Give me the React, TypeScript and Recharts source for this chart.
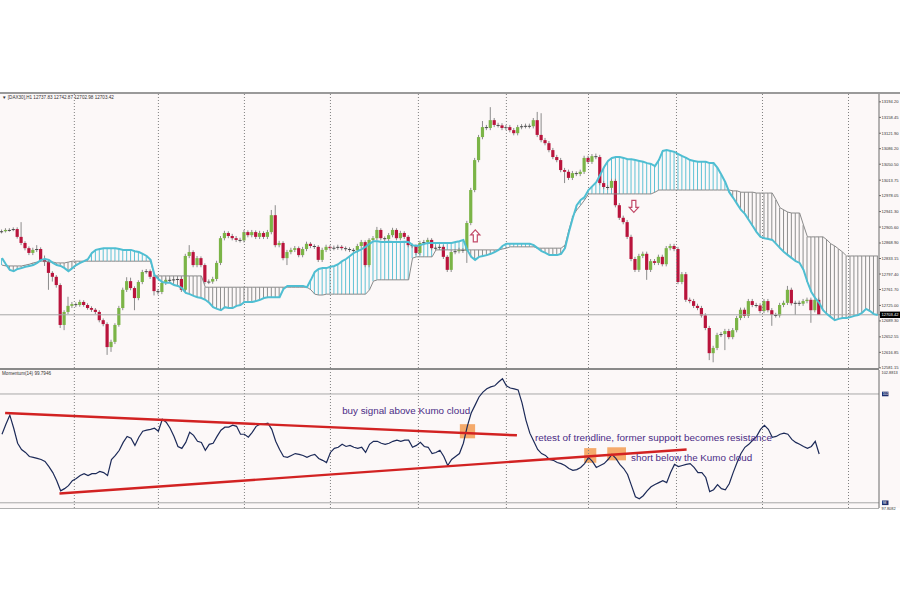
import React from 'react';
import { ComposedChart, Bar, Line, XAxis, YAxis, ReferenceLine, ReferenceArea, ReferenceDot } from 'recharts';

// DAX30 H1 candles
const opens = [
  12895, 12896, 12899, 12899, 12901, 12883, 12869, 12857, 12846, 12853,
  12855, 12830, 12825, 12800, 12791, 12772, 12680, 12710, 12724, 12728,
  12726, 12733, 12726, 12719, 12715, 12710, 12691, 12682, 12629, 12641,
  12680, 12719, 12761, 12781, 12765, 12742, 12779, 12802, 12804, 12791,
  12758, 12756, 12777, 12784, 12783, 12785, 12786, 12761, 12839, 12848,
  12818, 12834, 12818, 12779, 12780, 12786, 12823, 12880, 12892, 12885,
  12880, 12876, 12875, 12894, 12887, 12894, 12883, 12892, 12883, 12894,
  12933, 12864, 12869, 12834, 12848, 12853, 12857, 12841, 12855, 12867,
  12862, 12860, 12830, 12853, 12860, 12857, 12858, 12860, 12857, 12855,
  12853, 12852, 12862, 12871, 12818, 12876, 12880, 12899, 12880, 12878,
  12887, 12899, 12880, 12892, 12883, 12864, 12862, 12846, 12869, 12871,
  12876, 12857, 12858, 12860, 12837, 12807, 12848, 12850, 12853, 12851,
  12915, 12991, 13060, 13113, 13136, 13134, 13152, 13141, 13140, 13134,
  13136, 13129, 13122, 13136, 13138, 13139, 13138, 13152, 13118, 13106,
  13099, 13083, 13067, 13060, 13037, 13033, 13019, 13030, 13028, 13033,
  13065, 13056, 13069, 13067, 13007, 12998, 12996, 13012, 12956, 12927,
  12917, 12883, 12832, 12807, 12839, 12844, 12807, 12827, 12823, 12837,
  12820, 12857, 12862, 12855, 12779, 12797, 12738, 12735, 12724, 12719,
  12702, 12673, 12615, 12627, 12657, 12659, 12666, 12652, 12668, 12696,
  12715, 12701, 12735, 12726, 12725, 12712, 12735, 12714, 12703, 12702,
  12726, 12731, 12761, 12730, 12731, 12729, 12735, 12738, 12714, 12737.83,
];
const highs = [
  12900, 12903, 12903, 12905, 12905, 12917, 12873, 12861, 12858, 12864,
  12859, 12840, 12829, 12804, 12795, 12776, 12714, 12745, 12733, 12732,
  12738, 12737, 12730, 12723, 12719, 12714, 12695, 12686, 12646, 12684,
  12724, 12766, 12790, 12789, 12769, 12783, 12807, 12809, 12808, 12795,
  12763, 12781, 12789, 12788, 12790, 12791, 12790, 12844, 12864, 12852,
  12839, 12838, 12822, 12785, 12791, 12828, 12885, 12897, 12896, 12890,
  12885, 12881, 12899, 12898, 12899, 12898, 12897, 12896, 12899, 12945,
  12956, 12874, 12873, 12853, 12858, 12862, 12861, 12860, 12872, 12871,
  12866, 12864, 12858, 12865, 12864, 12863, 12865, 12864, 12861, 12859,
  12857, 12867, 12876, 12875, 12880, 12885, 12906, 12903, 12884, 12892,
  12904, 12903, 12897, 12896, 12887, 12868, 12866, 12874, 12876, 12881,
  12880, 12863, 12865, 12864, 12841, 12853, 12855, 12858, 12857, 12920,
  12996, 13065, 13118, 13150, 13141, 13182, 13157, 13146, 13145, 13141,
  13141, 13134, 13141, 13143, 13144, 13144, 13157, 13171, 13168, 13111,
  13104, 13088, 13072, 13065, 13042, 13038, 13035, 13034, 13038, 13070,
  13070, 13074, 13075, 13072, 13012, 13003, 13017, 13017, 12961, 12932,
  12922, 12888, 12837, 12844, 12849, 12849, 12832, 12832, 12842, 12842,
  12862, 12867, 12867, 12860, 12802, 12802, 12743, 12740, 12729, 12724,
  12707, 12678, 12632, 12662, 12664, 12671, 12671, 12673, 12701, 12720,
  12720, 12740, 12740, 12731, 12730, 12740, 12740, 12719, 12708, 12731,
  12736, 12770, 12766, 12736, 12736, 12740, 12743, 12743, 12742, 12742.87,
];
const lows = [
  12891, 12893, 12895, 12896, 12879, 12864, 12852, 12841, 12841, 12848,
  12826, 12816, 12761, 12780, 12766, 12673, 12668, 12705, 12719, 12721,
  12722, 12722, 12715, 12710, 12705, 12686, 12677, 12611, 12618, 12636,
  12676, 12714, 12756, 12760, 12714, 12737, 12774, 12798, 12786, 12748,
  12750, 12751, 12772, 12779, 12778, 12780, 12756, 12756, 12834, 12813,
  12813, 12813, 12774, 12774, 12775, 12781, 12818, 12875, 12880, 12875,
  12871, 12870, 12870, 12882, 12882, 12878, 12878, 12878, 12878, 12889,
  12859, 12859, 12829, 12818, 12843, 12848, 12836, 12836, 12850, 12857,
  12855, 12825, 12825, 12848, 12852, 12852, 12853, 12852, 12850, 12848,
  12847, 12847, 12857, 12813, 12813, 12871, 12875, 12875, 12873, 12873,
  12882, 12875, 12875, 12878, 12859, 12857, 12841, 12841, 12864, 12866,
  12852, 12852, 12853, 12832, 12802, 12802, 12843, 12845, 12846, 12823,
  12910, 12986, 13055, 13108, 13129, 13129, 13136, 13135, 13129, 13129,
  13124, 13117, 13117, 13131, 13133, 13133, 13133, 13113, 13101, 13094,
  13078, 13062, 13055, 13032, 13007, 13014, 13014, 13023, 13023, 13028,
  13051, 13051, 13062, 13002, 12993, 12991, 12991, 12951, 12922, 12912,
  12878, 12827, 12802, 12802, 12834, 12784, 12802, 12818, 12818, 12815,
  12815, 12852, 12850, 12774, 12774, 12733, 12730, 12719, 12714, 12697,
  12668, 12599, 12594, 12622, 12652, 12622, 12647, 12647, 12663, 12691,
  12696, 12696, 12721, 12720, 12707, 12707, 12709, 12678, 12697, 12697,
  12721, 12726, 12725, 12703, 12724, 12724, 12730, 12685, 12709, 12702.98,
];
const closes = [
  12896, 12899, 12899, 12901, 12883, 12869, 12857, 12846, 12853, 12855,
  12830, 12825, 12800, 12791, 12772, 12680, 12710, 12724, 12728, 12726,
  12733, 12726, 12719, 12715, 12710, 12691, 12682, 12629, 12641, 12680,
  12719, 12761, 12781, 12765, 12742, 12779, 12802, 12804, 12791, 12758,
  12756, 12777, 12784, 12783, 12785, 12786, 12761, 12839, 12848, 12818,
  12834, 12818, 12779, 12780, 12786, 12823, 12880, 12892, 12885, 12880,
  12876, 12875, 12894, 12887, 12894, 12883, 12892, 12883, 12894, 12933,
  12864, 12869, 12834, 12848, 12853, 12857, 12841, 12855, 12867, 12862,
  12860, 12830, 12853, 12860, 12857, 12858, 12860, 12857, 12855, 12853,
  12852, 12862, 12871, 12818, 12876, 12880, 12899, 12880, 12878, 12887,
  12899, 12880, 12892, 12883, 12864, 12862, 12846, 12869, 12871, 12876,
  12857, 12858, 12860, 12837, 12807, 12848, 12850, 12853, 12851, 12915,
  12991, 13060, 13113, 13136, 13134, 13152, 13141, 13140, 13134, 13136,
  13129, 13122, 13136, 13138, 13139, 13138, 13152, 13118, 13106, 13099,
  13083, 13067, 13060, 13037, 13033, 13019, 13030, 13028, 13033, 13065,
  13056, 13069, 13067, 13007, 12998, 12996, 13012, 12956, 12927, 12917,
  12883, 12832, 12807, 12839, 12844, 12807, 12827, 12823, 12837, 12820,
  12857, 12862, 12855, 12779, 12797, 12738, 12735, 12724, 12719, 12702,
  12673, 12615, 12627, 12657, 12659, 12666, 12652, 12668, 12696, 12715,
  12701, 12735, 12726, 12725, 12712, 12735, 12714, 12703, 12702, 12726,
  12731, 12761, 12730, 12731, 12729, 12735, 12738, 12714, 12737.83, 12703.42,
];

// Ichimoku cloud (already shifted forward, so it runs past the last candle)
const spanA = [
  12834, 12820, 12807, 12804, 12809, 12811, 12814, 12816, 12818, 12823,
  12830, 12832, 12830, 12823, 12818, 12816, 12811, 12804, 12811, 12818,
  12823, 12827, 12832, 12846, 12853, 12855, 12857, 12857, 12857, 12857,
  12855, 12853, 12853, 12853, 12850, 12848, 12844, 12839, 12830, 12795,
  12786, 12779, 12777, 12777, 12772, 12770, 12765, 12754, 12751, 12747,
  12744, 12742, 12738, 12731, 12721, 12717, 12714, 12721, 12719, 12719,
  12724, 12726, 12733, 12733, 12733, 12735, 12738, 12742, 12744, 12744,
  12744, 12744, 12763, 12770, 12770, 12770, 12770, 12770, 12767, 12784,
  12802, 12809, 12811, 12811, 12814, 12816, 12820, 12827, 12832, 12839,
  12846, 12850, 12855, 12860, 12867, 12873, 12873, 12871, 12871, 12872,
  12871, 12871, 12871, 12872, 12871, 12864, 12862, 12864, 12867, 12869,
  12869, 12869, 12869, 12869, 12869, 12869, 12871, 12873, 12876, 12853,
  12837, 12830, 12837, 12839, 12841, 12844, 12848, 12853, 12862, 12867,
  12867, 12867, 12867, 12867, 12867, 12867, 12864, 12857, 12850, 12846,
  12841, 12841, 12841, 12844, 12857, 12894, 12927, 12956, 12968, 12975,
  12991, 13000, 13009, 13026, 13044, 13058, 13065, 13067, 13067, 13065,
  13062, 13062, 13060, 13058, 13056, 13053, 13051, 13046, 13060, 13081,
  13083, 13081, 13079, 13074, 13069, 13065, 13060, 13058, 13056, 13056,
  13056, 13053, 13053, 13042, 13026, 13009, 12986, 12973, 12959, 12945,
  12936, 12922, 12908, 12894, 12883, 12880, 12878, 12876, 12867, 12857,
  12848, 12841, 12834, 12827, 12823, 12807, 12779, 12756, 12742, 12731,
  12714, 12705, 12698, 12691, 12694, 12696, 12696, 12698, 12701, 12703,
  12708, 12717, 12712, 12705, 12703,
];
const spanB = [
  12818, 12816, 12816, 12816, 12816, 12816, 12818, 12820, 12823, 12825,
  12827, 12827, 12825, 12825, 12823, 12823, 12823, 12825, 12827, 12827,
  12827, 12827, 12827, 12827, 12827, 12827, 12827, 12827, 12827, 12827,
  12827, 12827, 12827, 12827, 12827, 12827, 12827, 12827, 12827, 12793,
  12793, 12793, 12793, 12793, 12793, 12793, 12793, 12793, 12793, 12793,
  12793, 12793, 12767, 12767, 12767, 12767, 12767, 12767, 12767, 12767,
  12767, 12767, 12767, 12767, 12767, 12767, 12767, 12767, 12767, 12767,
  12767, 12767, 12767, 12767, 12767, 12767, 12767, 12767, 12767, 12761,
  12751, 12749, 12749, 12751, 12751, 12751, 12751, 12751, 12751, 12751,
  12751, 12751, 12751, 12751, 12761, 12781, 12784, 12784, 12784, 12784,
  12784, 12784, 12784, 12784, 12784, 12834, 12837, 12837, 12837, 12837,
  12837, 12853, 12853, 12853, 12853, 12853, 12853, 12853, 12853, 12853,
  12853, 12853, 12853, 12853, 12853, 12853, 12853, 12853, 12855, 12857,
  12860, 12860, 12860, 12860, 12860, 12860, 12860, 12857, 12857, 12857,
  12857, 12857, 12857, 12857, 12864, 12899, 12931, 12945, 12956, 12968,
  12982, 12982, 12982, 12982, 12982, 12982, 12982, 12982, 12982, 12982,
  12982, 12982, 12982, 12982, 12982, 12982, 12982, 12986, 12991, 12991,
  12991, 12991, 12991, 12991, 12991, 12991, 12991, 12991, 12991, 12991,
  12991, 12991, 12991, 12991, 12991, 12991, 12991, 12989, 12989, 12986,
  12986, 12986, 12986, 12984, 12984, 12984, 12984, 12984, 12968, 12950,
  12945, 12940, 12938, 12938, 12938, 12910, 12883, 12883, 12883, 12883,
  12883, 12876, 12867, 12862, 12855, 12848, 12839, 12839, 12839, 12839,
  12839, 12839, 12839, 12839, 12839,
];

// Momentum(14)
const momentum = [
  100.52, 100.89, 101.22, 100.74, 100.19, 99.96, 99.85, 99.70, 99.67, 99.63,
  99.59, 99.52, 99.33, 99.11, 98.81, 98.44, 98.52, 98.63, 98.81, 98.89,
  99.00, 99.07, 99.00, 99.07, 99.07, 99.15, 99.11, 99.00, 99.59, 99.74,
  99.93, 100.22, 100.44, 100.37, 100.11, 100.41, 100.63, 100.67, 100.70, 100.74,
  100.63, 101.07, 100.96, 100.74, 100.44, 100.07, 100.00, 100.22, 100.59, 100.48,
  100.26, 100.22, 99.93, 100.15, 100.19, 100.44, 100.67, 100.78, 100.78, 100.85,
  100.81, 100.52, 100.52, 100.41, 100.59, 100.81, 100.89, 100.89, 100.93, 100.70,
  100.26, 99.96, 99.70, 99.67, 99.74, 99.81, 99.78, 99.74, 99.67, 99.74,
  99.78, 99.63, 99.56, 99.48, 99.85, 100.00, 100.04, 100.15, 100.07, 100.11,
  100.04, 100.00, 100.04, 99.85, 100.15, 100.26, 100.26, 100.19, 100.15, 100.19,
  100.26, 100.30, 100.26, 100.30, 100.30, 100.04, 100.11, 100.22, 100.07, 100.04,
  99.81, 99.85, 99.93, 99.70, 99.37, 99.59, 99.70, 99.81, 100.19, 100.81,
  101.30, 101.59, 101.89, 102.07, 102.19, 102.26, 102.30, 102.44, 102.56, 102.30,
  102.22, 102.19, 102.15, 101.67, 101.04, 100.56, 100.26, 99.96, 99.81, 99.74,
  99.59, 99.56, 99.48, 99.44, 99.37, 99.26, 99.19, 99.22, 99.30, 99.44,
  99.67, 99.52, 99.30, 99.37, 99.44, 99.59, 99.78, 99.63, 99.41, 99.26,
  99.04, 98.63, 98.22, 98.15, 98.26, 98.44, 98.59, 98.67, 98.74, 98.81,
  98.74, 99.11, 99.41, 99.33, 99.37, 99.41, 99.44, 99.30, 99.11, 99.11,
  98.93, 98.41, 98.48, 98.67, 98.52, 98.48, 98.70, 99.11, 99.48, 99.81,
  100.04, 100.15, 100.30, 100.44, 100.70, 100.85, 100.70, 100.41, 100.44, 100.52,
  100.56, 100.52, 100.33, 100.22, 100.15, 100.07, 100.00, 100.07, 100.26, 99.7946,
];

const priceTicks = [
  13194.2, 13158.45, 13121.9, 13086.2, 13050.5, 13013.75, 12978.05, 12941.3, 12905.6,
  12868.9, 12833.15, 12797.4, 12761.7, 12725.0, 12689.3, 12652.55, 12616.85, 12581.15,
];
const PRICE_NOW = 12703.42;
const momLevels = [102, 98];
const momTicks = [97.8082, 98, 102, 102.8813];
const gridAt = [18.5, 40, 62, 84, 106.5, 129, 150, 172.5, 194.5, 216.5];

const upperTrend = [{ x: 0.8, y: 101.3 }, { x: 131.7, y: 100.48 }];
const lowerTrend = [{ x: 14.7, y: 98.34 }, { x: 175.1, y: 99.96 }];
const signalBoxes = [
  { x1: 117.1, x2: 121.0, y1: 100.37, y2: 100.89 },
  { x1: 148.9, x2: 152.0, y1: 99.47, y2: 100.01 },
  { x1: 154.8, x2: 159.6, y1: 99.56, y2: 100.04 },
];
const notes = [
  { text: 'buy signal above Kumo cloud', x: 87.0, y: 101.28, w: 128 },
  { text: 'retest of trendline, former support becomes resistance', x: 136.3, y: 100.26, w: 237 },
  { text: 'short below the Kumo cloud', x: 160.9, y: 99.53, w: 121 },
];
const arrows = [
  { x: 121.05, y: 12885.5, dir: 'up' },
  { x: 161.6, y: 12953.5, dir: 'down' },
];

const X_DOMAIN = [-0.51, 224.3];
const P_DOMAIN = [12580.8, 13212.3];
const M_DOMAIN = [97.8082, 102.8813];

const rows = spanA.map((a, i) => {
  const b = spanB[i];
  const has = i < closes.length;
  return {
    i,
    o: has ? opens[i] : null,
    h: has ? highs[i] : null,
    l: has ? lows[i] : null,
    c: has ? closes[i] : null,
    range: has ? [lows[i], highs[i]] : null,
    a,
    b,
    cloud: [Math.min(a, b), Math.max(a, b)],
    m: has ? momentum[i] : null,
  };
});

const FONT = 'Liberation Sans, Arial, sans-serif';

const Candle = (p: any) => {
  const { x, y, width, height, payload } = p;
  if (!payload || payload.h == null || !isFinite(y)) return <g />;
  const cx = x + width / 2;
  const k = height / (payload.h - payload.l);
  const yo = y + (payload.h - payload.o) * k;
  const yc = y + (payload.h - payload.c) * k;
  const flat = Math.abs(yc - yo) < 1;
  const col = flat ? '#4a4a4a' : payload.c > payload.o ? '#7bb447' : '#b9143c';
  return (
    <g>
      <line x1={cx} x2={cx} y1={y} y2={y + height} stroke="#8c8c8c" strokeWidth={1} />
      <rect x={cx - 1.6} y={Math.min(yo, yc)} width={3.2} height={Math.max(Math.abs(yc - yo), 1)} fill={col} />
    </g>
  );
};

const Hatch = (p: any) => {
  const { x, y, width, height, payload } = p;
  if (!payload || !isFinite(y)) return <g />;
  const col = payload.a >= payload.b ? '#5fc2d5' : '#8e8e8e';
  return <rect x={x + width / 2 - 0.5} y={y} width={1} height={Math.max(height, 0.5)} fill={col} />;
};

const PriceTick = (p: any) => {
  const { x, y, payload } = p;
  const v = payload.value;
  if (Math.abs(v - PRICE_NOW) < 0.001) {
    return (
      <g>
        <rect x={x - 3} y={y - 3.2} width={22} height={6.4} fill="#000" />
        <text x={x - 1.5} y={y + 1.5} fontSize={4.1} fill="#fff" fontFamily={FONT}>{v.toFixed(2)}</text>
      </g>
    );
  }
  return <text x={x - 1.5} y={y + 1.5} fontSize={4.1} fill="#333" fontFamily={FONT}>{v.toFixed(2)}</text>;
};

const MomTick = (p: any) => {
  const { x, y, payload } = p;
  const v = payload.value;
  if (momLevels.includes(v)) {
    return (
      <g>
        <rect x={x - 1} y={y - 2.3} width={6.5} height={4.6} fill="#1f2f6e" />
        <text x={x - 0.3} y={y + 1.3} fontSize={3.4} fill="#fff" fontFamily={FONT}>{v}</text>
      </g>
    );
  }
  const top = v > 102.5;
  return <text x={x - 1.5} y={top ? y + 4 : y + 2.2} fontSize={3.9} fill="#333" fontFamily={FONT}>{v.toFixed(4)}</text>;
};

const Arrow = (dir: string) => (p: any) => {
  const { cx, cy } = p;
  const s = dir === 'up' ? 1 : -1;
  const d = `M ${cx} ${cy - 6 * s} L ${cx + 4.6} ${cy - 1 * s} L ${cx + 2} ${cy - 1 * s} L ${cx + 2} ${cy + 6 * s} L ${cx - 2} ${cy + 6 * s} L ${cx - 2} ${cy - 1 * s} L ${cx - 4.6} ${cy - 1 * s} Z`;
  return <path d={d} fill="#fff" stroke="#c24a68" strokeWidth={1.2} />;
};

const Note = (text: string, w: number) => (p: any) => (
  <text x={p.cx} y={p.cy} fontSize={9.6} fill="#4b2c86" fontFamily={FONT} textLength={w} lengthAdjust="spacingAndGlyphs">
    {text}
  </text>
);

export default function App() {
  return (
    <div style={{ position: 'absolute', left: 0, top: 0, width: 900, height: 600, background: '#fff', overflow: 'hidden' }}>
      <div style={{ position: 'absolute', left: 0, top: 93, width: 900, height: 415, background: '#fcf8f8' }} />

      {/* price panel with candles and Kumo cloud */}
      <div style={{ position: 'absolute', left: 0, top: 94 }}>
        <ComposedChart width={900} height={277} data={rows} margin={{ top: 0, right: 0, bottom: 3, left: 0 }}>
          <XAxis xAxisId="c" dataKey="i" type="number" domain={X_DOMAIN} allowDataOverflow hide />
          <XAxis xAxisId="h" dataKey="i" type="number" domain={X_DOMAIN} allowDataOverflow hide />
          <YAxis
            yAxisId="p"
            orientation="right"
            width={21}
            domain={P_DOMAIN}
            allowDataOverflow
            ticks={[...priceTicks, PRICE_NOW]}
            interval={0}
            tickSize={2}
            tick={(p: any) => <PriceTick {...p} />}
            axisLine={{ stroke: '#6a6a6a' }}
            tickLine={{ stroke: '#6a6a6a' }}
          />
          {gridAt.map((g) => (
            <ReferenceLine key={g} xAxisId="c" yAxisId="p" x={g} stroke="#808080" strokeDasharray="1 2" />
          ))}
          <ReferenceLine xAxisId="c" yAxisId="p" y={PRICE_NOW} stroke="#a8a8a8" />
          <Bar xAxisId="h" yAxisId="p" dataKey="cloud" barSize={1} shape={Hatch} isAnimationActive={false} />
          <Line xAxisId="c" yAxisId="p" dataKey="b" type="linear" stroke="#8a8a8a" strokeWidth={1} dot={false} isAnimationActive={false} />
          <Line xAxisId="c" yAxisId="p" dataKey="a" type="linear" stroke="#4fbed2" strokeWidth={2} dot={false} isAnimationActive={false} />
          <Bar xAxisId="c" yAxisId="p" dataKey="range" barSize={3} shape={Candle} isAnimationActive={false} />
          {arrows.map((a) => (
            <ReferenceDot key={a.dir} xAxisId="c" yAxisId="p" x={a.x} y={a.y} r={5} shape={Arrow(a.dir)} />
          ))}
        </ComposedChart>
      </div>

      {/* momentum panel */}
      <div style={{ position: 'absolute', left: 0, top: 370 }}>
        <ComposedChart width={900} height={142} data={rows} margin={{ top: 0, right: 0, bottom: 4, left: 0 }}>
          <XAxis dataKey="i" type="number" domain={X_DOMAIN} allowDataOverflow hide />
          <YAxis
            orientation="right"
            width={21}
            domain={M_DOMAIN}
            allowDataOverflow
            ticks={momTicks}
            interval={0}
            tickSize={2}
            tick={(p: any) => <MomTick {...p} />}
            axisLine={{ stroke: '#6a6a6a' }}
            tickLine={false}
          />
          {gridAt.map((g) => (
            <ReferenceLine key={g} x={g} stroke="#808080" strokeDasharray="1 2" />
          ))}
          {momLevels.map((v) => (
            <ReferenceLine key={v} y={v} stroke="#a8a8a8" />
          ))}
          {signalBoxes.map((b, k) => (
            <ReferenceArea key={k} x1={b.x1} x2={b.x2} y1={b.y1} y2={b.y2} fill="#f39c52" fillOpacity={0.85} stroke="none" />
          ))}
          <Line dataKey="m" type="linear" stroke="#1c2a58" strokeWidth={1.2} dot={false} isAnimationActive={false} />
          <ReferenceLine segment={upperTrend} stroke="#d22222" strokeWidth={2.4} />
          <ReferenceLine segment={lowerTrend} stroke="#d22222" strokeWidth={2.4} />
          {notes.map((n) => (
            <ReferenceDot key={n.text} x={n.x} y={n.y} r={1} shape={Note(n.text, n.w)} />
          ))}
        </ComposedChart>
      </div>

      {/* frame lines */}
      <div style={{ position: 'absolute', left: 0, top: 92, width: 900, height: 2, background: '#9a9a9a' }} />
      <div style={{ position: 'absolute', left: 0, top: 368, width: 879, height: 2, background: '#8a8a8a' }} />
      <div style={{ position: 'absolute', left: 0, top: 508, width: 879, height: 1, background: '#b0b0b0' }} />

      <svg width={900} height={600} style={{ position: 'absolute', left: 0, top: 0, pointerEvents: 'none' }}>
        <text x={2} y={99} fontSize={4.6} fill="#333" fontFamily={FONT}>
          ▼ [DAX30],H1  12737.83 12742.87 12702.98 12703.42
        </text>
        <text x={2} y={375} fontSize={4.6} fill="#333" fontFamily={FONT}>
          Momentum(14) 99.7946
        </text>
      </svg>
    </div>
  );
}
